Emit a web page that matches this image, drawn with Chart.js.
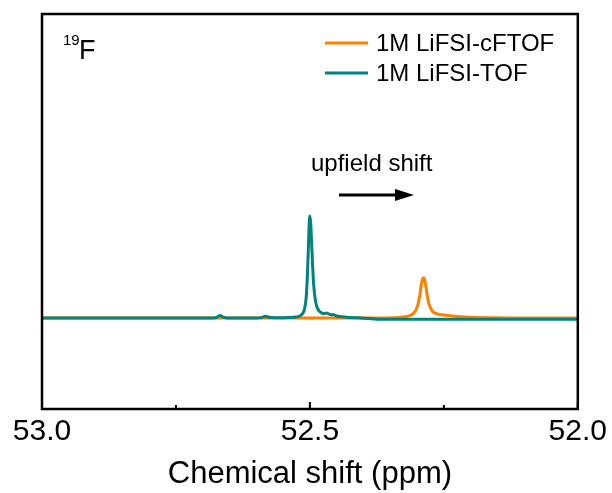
<!DOCTYPE html>
<html>
<head>
<meta charset="utf-8">
<script src="https://cdn.jsdelivr.net/npm/chart.js@4.4.1/dist/chart.umd.min.js"></script>
<style>
  body { margin: 0; background: #fff; }
  canvas { display: block; }
</style>
</head>
<body>
<canvas id="nmrChart" width="612" height="493"></canvas>
<script>
// chemical shift (ppm) and intensity
const orangeX = [53.0, 52.8, 52.6, 52.45, 52.34, 52.325, 52.315, 52.308, 52.302, 52.298, 52.295, 52.292, 52.29, 52.288,
    52.286, 52.284, 52.281, 52.278, 52.274, 52.27, 52.265, 52.258, 52.25, 52.24, 52.225, 52.21, 52.19, 52.16, 52.12, 52.0];
const orangeY = [0, 0, 0, 0, 0.003, 0.01, 0.02, 0.04, 0.08, 0.14, 0.22, 0.33, 0.38, 0.395,
    0.38, 0.32, 0.22, 0.14, 0.09, 0.06, 0.045, 0.035, 0.03, 0.022, 0.015, 0.01, 0.006, 0.003, 0, 0];

const tealX = [53.0, 52.8, 52.68, 52.674, 52.67, 52.667, 52.663, 52.657, 52.65, 52.6, 52.59, 52.585, 52.582, 52.578, 52.572,
    52.56, 52.54, 52.526, 52.519, 52.514, 52.51, 52.507, 52.505, 52.503, 52.5015, 52.5, 52.4985, 52.497, 52.495,
    52.493, 52.49, 52.487, 52.483, 52.478, 52.473, 52.469, 52.465, 52.46, 52.456, 52.451, 52.444, 52.433, 52.418, 52.405,
    52.37, 52.2, 52.0];
const tealY = [0, 0, 0, 0.006, 0.022, 0.025, 0.012, 0.003, 0, 0, 0.004, 0.015, 0.018, 0.01, 0.004,
    0.002, 0.004, 0.01, 0.02, 0.04, 0.09, 0.2, 0.38, 0.66, 0.9, 1.0, 0.93, 0.76, 0.52,
    0.33, 0.18, 0.11, 0.07, 0.05, 0.042, 0.05, 0.04, 0.032, 0.033, 0.022, 0.014, 0.008, 0.003, 0,
    -0.012, -0.012, -0.012];

const seriesNames = ['1M LiFSI-cFTOF', '1M LiFSI-TOF'];
const seriesColors = ['#FF8000', '#00827F'];
const majorTicks = [53.0, 52.5, 52.0];
const minorTicks = [52.75, 52.25];

const toPoints = (xs, ys) => xs.map((v, i) => ({x: v, y: ys[i]}));
const FONT = "'Liberation Sans', Arial, sans-serif";

const overlay = {
    id: 'overlay',
    afterDraw(chart) {
        const {ctx, chartArea: a, scales: {x}} = chart;
        ctx.save();
        ctx.strokeStyle = '#000';
        ctx.fillStyle = '#000';
        ctx.lineWidth = 2.5;
        ctx.strokeRect(a.left, a.top, a.right - a.left, a.bottom - a.top);

        // inward tick marks
        ctx.lineWidth = 2;
        majorTicks.forEach(v => {
            const px = x.getPixelForValue(v);
            ctx.beginPath(); ctx.moveTo(px, a.bottom); ctx.lineTo(px, a.bottom - 7); ctx.stroke();
        });
        minorTicks.forEach(v => {
            const px = x.getPixelForValue(v);
            ctx.beginPath(); ctx.moveTo(px, a.bottom); ctx.lineTo(px, a.bottom - 4); ctx.stroke();
        });

        // legend
        ctx.lineWidth = 3;
        ctx.font = '24px ' + FONT;
        ctx.textBaseline = 'middle';
        ctx.textAlign = 'left';
        seriesNames.forEach((name, i) => {
            const y = 43 + i * 30;
            ctx.strokeStyle = seriesColors[i];
            ctx.beginPath(); ctx.moveTo(325, y); ctx.lineTo(368, y); ctx.stroke();
            ctx.fillText(name, 376, y + 1);
        });

        // nucleus label
        ctx.textBaseline = 'alphabetic';
        ctx.font = '15px ' + FONT;
        ctx.fillText('19', 63, 45);
        ctx.font = '27px ' + FONT;
        ctx.fillText('F', 79, 59);

        // upfield shift annotation
        ctx.font = '24px ' + FONT;
        ctx.fillText('upfield shift', 311, 171);
        ctx.strokeStyle = '#000';
        ctx.lineWidth = 3;
        ctx.beginPath(); ctx.moveTo(339, 195); ctx.lineTo(400, 195); ctx.stroke();
        ctx.beginPath();
        ctx.moveTo(414, 195); ctx.lineTo(395, 189); ctx.lineTo(395, 201); ctx.closePath();
        ctx.fill();
        ctx.restore();
    }
};

new Chart(document.getElementById('nmrChart'), {
    type: 'line',
    data: {
        datasets: [{
            label: seriesNames[0],
            data: toPoints(orangeX, orangeY),
            borderColor: seriesColors[0],
            borderWidth: 3,
            pointRadius: 0,
            cubicInterpolationMode: 'monotone',
            order: 1
        }, {
            label: seriesNames[1],
            data: toPoints(tealX, tealY),
            borderColor: seriesColors[1],
            borderWidth: 3,
            pointRadius: 0,
            cubicInterpolationMode: 'monotone',
            order: 0
        }]
    },
    options: {
        responsive: false,
        animation: false,
        layout: { padding: { left: 42, right: 33, top: 14, bottom: 0 } },
        plugins: {
            legend: { display: false },
            tooltip: { enabled: false }
        },
        scales: {
            x: {
                type: 'linear',
                reverse: true,
                min: 52.0,
                max: 53.0,
                afterFit: (scale) => { scale.height = 84; },
                border: { display: false },
                grid: { display: false, drawTicks: false },
                ticks: {
                    stepSize: 0.5,
                    padding: 5,
                    color: '#000',
                    font: { family: FONT, size: 30 },
                    callback: (v) => v.toFixed(1)
                },
                title: {
                    display: true,
                    text: 'Chemical shift (ppm)',
                    color: '#000',
                    font: { family: FONT, size: 31 },
                    padding: { top: 0, bottom: 0 }
                }
            },
            y: {
                display: false,
                min: -0.892,
                max: 2.98
            }
        }
    },
    plugins: [overlay]
});
</script>
</body>
</html>
